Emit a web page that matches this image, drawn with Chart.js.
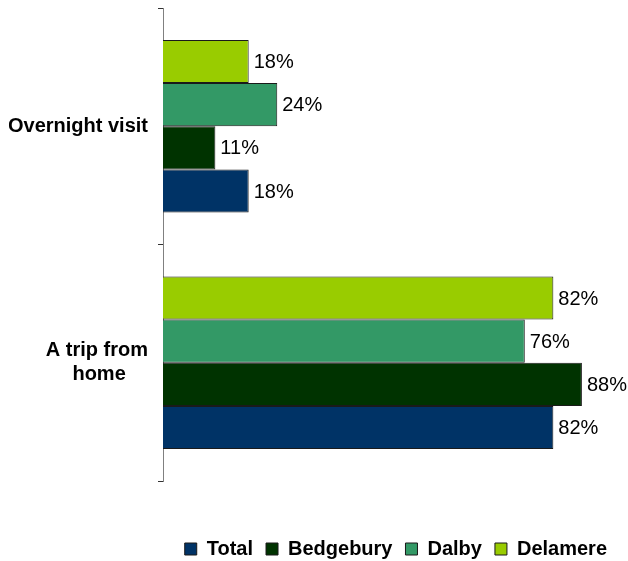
<!DOCTYPE html>
<html>
<head>
<meta charset="utf-8">
<script src="https://cdn.jsdelivr.net/npm/chart.js@4"></script>
<style>
  html, body { margin: 0; padding: 0; background: #fff; }
  #wrap { width: 628px; height: 561px; }
</style>
</head>
<body>
<div id="wrap"><canvas id="tripChart"></canvas></div>
<script>
// categories down the y-axis (second line padded so it sits centred under the first)
var categories = ['Overnight visit', ['A trip from', 'home    ']];
// percentages per forest
var total = [18, 82];
var bedgebury = [11, 88];
var dalby = [24, 76];
var delamere = [18, 82];

// draws the "18%" style labels at the end of each bar
var valueLabels = {
  id: 'valueLabels',
  afterDatasetsDraw: function(chart) {
    var ctx = chart.ctx;
    ctx.save();
    ctx.font = '20px "Liberation Sans", Arial, sans-serif';
    ctx.fillStyle = '#000';
    ctx.textAlign = 'left';
    ctx.textBaseline = 'middle';
    chart.data.datasets.forEach(function(ds, i) {
      chart.getDatasetMeta(i).data.forEach(function(bar, j) {
        ctx.fillText(ds.data[j] + '%', bar.x + 5, bar.y + 1);
      });
    });
    ctx.restore();
  }
};

var ctx = document.getElementById('tripChart');
var myChart = new Chart(ctx, {
  type: 'bar',
  data: {
    labels: categories,
    datasets: [
      { label: 'Delamere', data: delamere, backgroundColor: '#99CC00', borderColor: '#1a1a1a', borderWidth: 1 },
      { label: 'Dalby', data: dalby, backgroundColor: '#339966', borderColor: '#1a1a1a', borderWidth: 1 },
      { label: 'Bedgebury', data: bedgebury, backgroundColor: '#003300', borderColor: '#1a1a1a', borderWidth: 1 },
      { label: 'Total', data: total, backgroundColor: '#003366', borderColor: '#1a1a1a', borderWidth: 1 }
    ]
  },
  options: {
    indexAxis: 'y',
    responsive: true,
    maintainAspectRatio: false,
    animation: false,
    datasets: { bar: { categoryPercentage: 0.73, barPercentage: 1.0 } },
    layout: { padding: { left: 9, right: 8, top: 8, bottom: -8 } },
    scales: {
      x: {
        min: 0,
        max: 96,
        display: true,
        grid: { display: false },
        border: { display: false },
        ticks: { display: false },
        afterFit: function(scale) {
          scale.height = 45;
          scale.paddingLeft = 0;
          scale.paddingRight = 0;
        }
      },
      y: {
        grid: { drawOnChartArea: false, drawTicks: true, tickLength: 5, color: '#333', offset: true },
        border: { display: true, color: '#808080', width: 1 },
        ticks: {
          padding: 10,
          color: '#000',
          font: { family: '"Liberation Sans", Arial, sans-serif', size: 20, weight: 'bold' }
        },
        afterFit: function(scale) {
          scale.width = 154;
          scale.paddingTop = 0;
          scale.paddingBottom = 0;
        }
      }
    },
    plugins: {
      legend: {
        position: 'bottom',
        align: 'end',
        reverse: true,
        labels: {
          boxWidth: 12,
          boxHeight: 12,
          padding: 13,
          color: '#000',
          font: { family: '"Liberation Sans", Arial, sans-serif', size: 20, weight: 'bold' }
        }
      },
      tooltip: { enabled: false }
    }
  },
  plugins: [valueLabels]
});
</script>
</body>
</html>
